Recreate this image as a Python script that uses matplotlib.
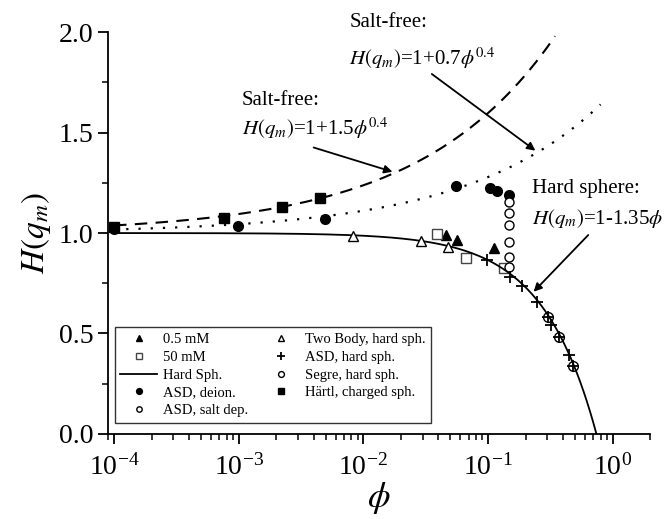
import numpy as np
import matplotlib
matplotlib.use("Agg")
import matplotlib.pyplot as plt
from matplotlib.ticker import FixedLocator, LogLocator, NullFormatter

plt.rcParams["font.family"] = ["Liberation Serif", "DejaVu Serif"]
plt.rcParams["mathtext.fontset"] = "stix"

# measured structure factor peaks H(q_m) vs volume fraction phi
phi_05mM = [0.046, 0.056, 0.112]
H_05mM = [0.990, 0.965, 0.925]

phi_50mM = [0.039, 0.067, 0.134]
H_50mM = [0.995, 0.876, 0.826]

phi_asd_deion = [1.0e-4, 9.8e-4, 4.9e-3, 0.055, 0.104, 0.118, 0.147]
H_asd_deion = [1.02, 1.035, 1.07, 1.234, 1.224, 1.209, 1.189]

phi_asd_salt = [0.147, 0.147, 0.147, 0.147, 0.147, 0.147]
H_asd_salt = [1.154, 1.10, 1.04, 0.955, 0.881, 0.831]

phi_twobody = [8.2e-3, 0.029, 0.048]
H_twobody = [0.985, 0.960, 0.930]

phi_asd_hard = [0.098, 0.150, 0.186, 0.246, 0.302, 0.32, 0.37, 0.446, 0.479]
H_asd_hard = [0.866, 0.781, 0.736, 0.657, 0.582, 0.542, 0.483, 0.393, 0.338]

phi_segre = [0.302, 0.37, 0.479]
H_segre = [0.582, 0.483, 0.338]

phi_hartl = [1.0e-4, 7.6e-4, 2.24e-3, 4.5e-3]
H_hartl = [1.03, 1.075, 1.129, 1.174]

xtick_vals = [1e-4, 1e-3, 1e-2, 1e-1, 1e0]
xtick_labels = [r"10$^{\mathregular{-4}}$", r"10$^{\mathregular{-3}}$",
                r"10$^{\mathregular{-2}}$", r"10$^{\mathregular{-1}}$",
                r"10$^{\mathregular{0}}$"]
ytick_vals = [0.0, 0.5, 1.0, 1.5, 2.0]
ytick_labels = ["0.0", "0.5", "1.0", "1.5", "2.0"]

# model curves
phi_hs = np.logspace(-4, np.log10(1 / 1.35), 300)
H_hs = 1 - 1.35 * phi_hs
phi_sf15 = np.logspace(-4, np.log10(0.345), 300)
H_sf15 = 1 + 1.5 * phi_sf15 ** 0.4
phi_sf07 = np.logspace(-4, np.log10(0.80), 300)
H_sf07 = 1 + 0.7 * phi_sf07 ** 0.4

fig = plt.figure(figsize=(6.71, 5.19), dpi=100)
ax = fig.add_axes([0.161, 0.164, 0.808, 0.774])

ax.plot(phi_sf15, H_sf15, color="k", lw=1.5, linestyle=(0, (6, 4)))
ax.plot(phi_sf07, H_sf07, color="k", lw=1.6, linestyle=(0, (1, 4.5)))

ms = 7
h1, = ax.plot(phi_05mM, H_05mM, "^", color="k", ms=ms, label="0.5 mM")
h2, = ax.plot(phi_50mM, H_50mM, "s", mfc="white", mec="#444444", mew=1.0, ms=ms - 0.5, label="50 mM")
h3, = ax.plot(phi_hs, H_hs, "-", color="k", lw=1.3, label="Hard Sph.")
h4, = ax.plot(phi_asd_deion, H_asd_deion, "o", color="k", ms=ms, label="ASD, deion.")
h5, = ax.plot(phi_asd_salt, H_asd_salt, "o", mfc="white", mec="k", mew=1.0, ms=ms - 0.5, label="ASD, salt dep.")
h6, = ax.plot(phi_twobody, H_twobody, "^", mfc="white", mec="k", mew=1.0, ms=ms, label="Two Body, hard sph.")
h7, = ax.plot(phi_asd_hard, H_asd_hard, "+", color="k", mew=1.3, ms=ms + 2, label="ASD, hard sph.")
h8, = ax.plot(phi_segre, H_segre, "o", mfc="none", mec="k", mew=1.0, ms=ms, label="Segre, hard sph.")
h9, = ax.plot(phi_hartl, H_hartl, "s", color="k", ms=ms - 0.5, label="Härtl, charged sph.")

ax.set_xscale("log")
ax.set_xlim(10 ** -4.048, 2.0)
ax.set_ylim(0, 2.0)

ax.spines["top"].set_visible(False)
ax.spines["right"].set_visible(False)
for s in ("left", "bottom"):
    ax.spines[s].set_linewidth(1.3)

ax.xaxis.set_major_locator(FixedLocator(xtick_vals))
ax.xaxis.set_minor_locator(LogLocator(base=10, subs=np.arange(2, 10)))
ax.xaxis.set_minor_formatter(NullFormatter())
ax.set_xticklabels(xtick_labels)
ax.set_yticks(ytick_vals)
ax.set_yticklabels(ytick_labels)
ax.yaxis.set_minor_locator(FixedLocator([0.25, 0.75, 1.25, 1.75]))
ax.tick_params(which="major", direction="out", length=7, width=1.3, labelsize=20)
ax.tick_params(which="minor", direction="out", length=4, width=1.1)
ax.tick_params(axis="x", pad=7)

ax.set_xlabel(r"$\phi$", fontsize=26, labelpad=0)
ax.set_ylabel(r"$H(q_m)$", fontsize=24, labelpad=4)

# curve annotations
tfs = 15
arrow = dict(arrowstyle="-|>", color="k", lw=1.3, mutation_scale=12)
ax.text(7.7e-3, 2.05, "Salt-free:", fontsize=tfs, va="center", clip_on=False)
ax.text(7.7e-3, 1.87, r"$H(q_m)$=1+0.7$\phi^{0.4}$", fontsize=tfs, va="center", clip_on=False)
ax.annotate("", xy=(0.25, 1 + 0.7 * 0.25 ** 0.4), xytext=(0.034, 1.80), arrowprops=arrow)

ax.text(1.06e-3, 1.66, "Salt-free:", fontsize=tfs, va="center")
ax.text(1.06e-3, 1.52, r"$H(q_m)$=1+1.5$\phi^{0.4}$", fontsize=tfs, va="center")
ax.annotate("", xy=(0.018, 1 + 1.5 * 0.018 ** 0.4), xytext=(3.8e-3, 1.43), arrowprops=arrow)

ax.text(0.227, 1.22, "Hard sphere:", fontsize=tfs, va="center", clip_on=False)
ax.text(0.227, 1.07, r"$H(q_m)$=1-1.35$\phi$", fontsize=tfs, va="center", clip_on=False)
ax.annotate("", xy=(0.224, 1 - 1.35 * 0.224), xytext=(0.66, 1.0), arrowprops=arrow)

leg = ax.legend(handles=[h1, h2, h3, h4, h5, h6, h7, h8, h9], ncol=2,
                loc="lower left", bbox_to_anchor=(0.012, 0.028),
                fontsize=10.5, markerscale=0.6, frameon=True, fancybox=False,
                edgecolor="k", handlelength=2.5, labelspacing=0.3,
                columnspacing=1.0, handletextpad=0.4, borderpad=0.4,
                borderaxespad=0)
leg.get_frame().set_linewidth(1.0)

fig.savefig("out.png", dpi=100)
